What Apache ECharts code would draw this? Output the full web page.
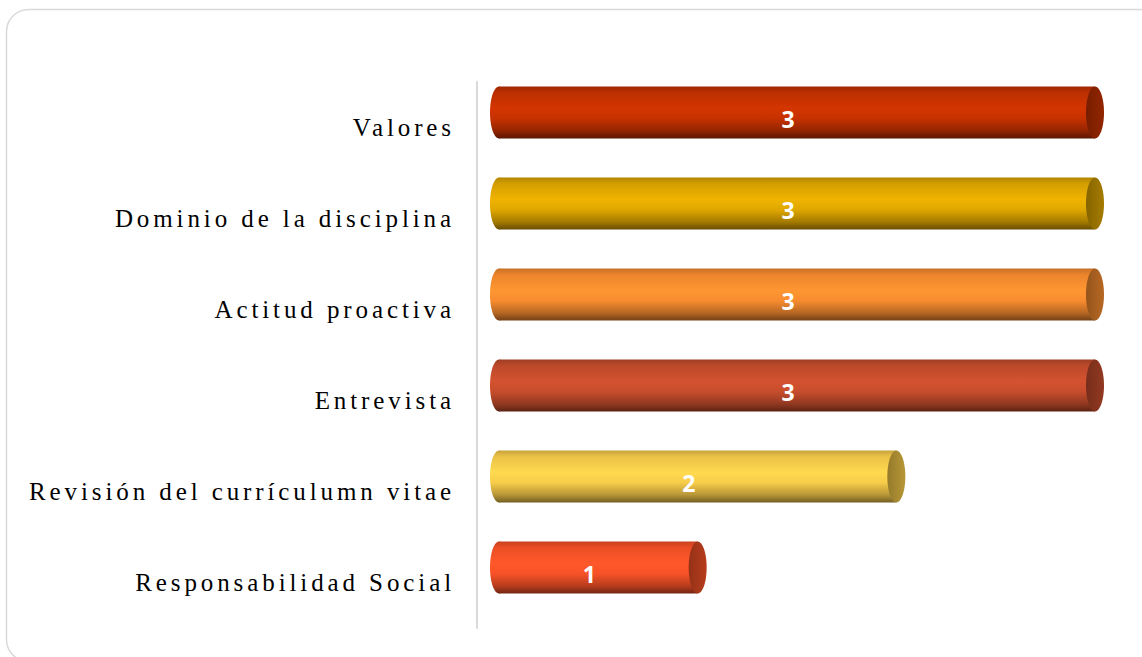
<!DOCTYPE html>
<html>
<head>
<meta charset="utf-8">
<script src="https://cdn.jsdelivr.net/npm/echarts@6/dist/echarts.min.js"></script>
<style>
  html, body { margin: 0; padding: 0; background: #fff; }
  #chart { width: 1142px; height: 657px; }
  /* Excel-style spaced-out axis labels */
  #chart text { letter-spacing: 3.9px; }
</style>
</head>
<body>
<div id="chart"></div>
<script>
// datos
var categories = ['Valores', 'Dominio de la disciplina', 'Actitud proactiva', 'Entrevista', 'Revisión del currículumn vitae', 'Responsabilidad Social'];
var values = [3, 3, 3, 3, 2, 1];

// colores de cada cilindro
var barColors = ['#cc3300', '#e6ac00', '#ff9030', '#cc4f2e', '#ffd24c', '#ff5528'];

function shade(hex, f) {
  var n = parseInt(hex.slice(1), 16);
  var r = Math.min(255, Math.round(((n >> 16) & 255) * f));
  var g = Math.min(255, Math.round(((n >> 8) & 255) * f));
  var b = Math.min(255, Math.round((n & 255) * f));
  return 'rgb(' + r + ',' + g + ',' + b + ')';
}

function bodyGradient(c) {
  return new echarts.graphic.LinearGradient(0, 0, 0, 1, [
    { offset: 0, color: shade(c, 0.78) },
    { offset: 0.12, color: shade(c, 0.92) },
    { offset: 0.42, color: shade(c, 1.04) },
    { offset: 0.62, color: shade(c, 0.97) },
    { offset: 0.85, color: shade(c, 0.72) },
    { offset: 1, color: shade(c, 0.45) }
  ]);
}

function capGradient(c) {
  return new echarts.graphic.LinearGradient(0, 0, 1, 0, [
    { offset: 0, color: shade(c, 0.58) },
    { offset: 1, color: shade(c, 0.72) }
  ]);
}

function renderItem(params, api) {
  var i = api.value(1);
  var v = api.value(0);
  var p0 = api.coord([0, i]);
  var p1 = api.coord([v, i]);
  var dx = 22, dy = -15, rx = 9, ry = 26;
  var x0 = p0[0] + dx;
  var x1 = p1[0] + dx;
  var cy = p0[1] + dy;
  var c = barColors[i];
  return {
    type: 'group',
    children: [
      {
        type: 'ellipse',
        shape: { cx: x0, cy: cy, rx: rx, ry: ry },
        style: { fill: bodyGradient(c) }
      },
      {
        type: 'rect',
        shape: { x: x0, y: cy - ry, width: x1 - x0, height: ry * 2 },
        style: { fill: bodyGradient(c) }
      },
      {
        type: 'ellipse',
        shape: { cx: x1, cy: cy, rx: rx, ry: ry },
        style: { fill: capGradient(c) }
      },
      {
        type: 'text',
        x: (x0 + x1) / 2 - rx + 2,
        y: cy + 6,
        style: {
          text: String(v),
          fill: '#fff',
          font: 'bold 23px "Open Sans", sans-serif',
          align: 'center',
          verticalAlign: 'middle'
        }
      }
    ]
  };
}

var chart = echarts.init(document.getElementById('chart'), null, { renderer: 'svg' });

chart.setOption({
  animation: false,
  backgroundColor: '#fff',
  graphic: [{
    type: 'rect',
    shape: { x: 6.5, y: 9.5, width: 1160, height: 652, r: 22 },
    style: { fill: 'none', stroke: '#d9d9d9', lineWidth: 1.5 },
    z: -10
  }],
  grid: { left: 477, right: 69, top: 82, bottom: 29 },
  xAxis: {
    type: 'value',
    min: 0,
    max: 3,
    show: false
  },
  yAxis: {
    type: 'category',
    data: categories,
    inverse: true,
    axisLine: { show: true, lineStyle: { color: '#d9d9d9', width: 2 } },
    axisTick: { show: false },
    axisLabel: {
      margin: 22,
      color: '#000',
      fontFamily: '"Liberation Serif", "Times New Roman", serif',
      fontSize: 25,
      padding: [10, 0, 0, 0]
    }
  },
  series: [{
    type: 'custom',
    renderItem: renderItem,
    encode: { x: 0, y: 1 },
    data: values.map(function (v, i) { return [v, i]; })
  }]
});
</script>
</body>
</html>
